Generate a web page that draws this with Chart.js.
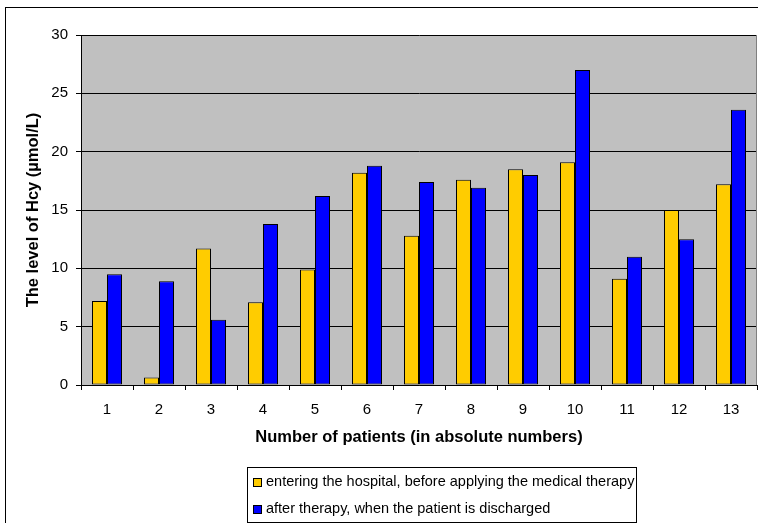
<!DOCTYPE html>
<html>
<head>
<meta charset="utf-8">
<title>Hcy level per patient</title>
<script src="https://cdn.jsdelivr.net/npm/chart.js@4.4.1/dist/chart.umd.min.js"></script>
<style>
  html, body { margin: 0; padding: 0; background: #fff; }
  #wrap { width: 758px; height: 523px; }
</style>
</head>
<body>
<div id="wrap"><canvas id="hcyChart" width="758" height="523"></canvas></div>
<script>
// patients on the x axis
const patients = ['1', '2', '3', '4', '5', '6', '7', '8', '9', '10', '11', '12', '13'];
// Hcy (µmol/L) on admission, before the therapy
const beforeTherapy = [7.2, 0.65, 11.7, 7.1, 9.9, 18.2, 12.8, 17.6, 18.5, 19.1, 9.1, 15.0, 17.2];
// Hcy (µmol/L) at discharge
const afterTherapy = [9.5, 8.9, 5.6, 13.8, 16.2, 18.8, 17.4, 16.9, 18.0, 27.0, 11.0, 12.5, 23.6];
const yTickValues = [0, 5, 10, 15, 20, 25, 30];
const seriesNames = [
    'entering the hospital, before applying the medical therapy',
    'after therapy, when the patient is discharged'
];

const FONT = '"Liberation Sans", Arial, sans-serif';

// grey plot background + outer frame of the whole figure
const chartFrame = {
    id: 'chartFrame',
    beforeDraw(chart) {
        const { ctx, chartArea: a } = chart;
        ctx.save();
        ctx.fillStyle = '#ffffff';
        ctx.fillRect(0, 0, chart.width, chart.height);
        ctx.fillStyle = '#c0c0c0';
        ctx.fillRect(a.left, a.top, a.right - a.left, a.bottom - a.top);
        ctx.strokeStyle = '#000';
        ctx.lineWidth = 1;
        ctx.strokeRect(5.5, 7.5, chart.width, chart.height);
        ctx.restore();
    },
    afterDraw(chart) {
        const { ctx, chartArea: a } = chart;
        ctx.save();
        ctx.strokeStyle = '#808080';
        ctx.lineWidth = 1;
        ctx.beginPath();
        ctx.moveTo(a.right - 0.5, a.top);
        ctx.lineTo(a.right - 0.5, a.bottom);
        ctx.stroke();
        ctx.restore();
    }
};

// boxed legend under the x axis title, one entry per row
const boxLegend = {
    id: 'boxLegend',
    afterDraw(chart) {
        const ctx = chart.ctx;
        ctx.save();
        ctx.strokeStyle = '#000';
        ctx.lineWidth = 1;
        ctx.strokeRect(247.5, 467.5, 389, 55);
        ctx.font = '14.5px ' + FONT;
        ctx.textBaseline = 'middle';
        ctx.textAlign = 'left';
        chart.data.datasets.forEach((ds, i) => {
            const y = 482 + i * 27;
            ctx.fillStyle = ds.backgroundColor;
            ctx.fillRect(253.5, y - 3.5, 8, 8);
            ctx.strokeRect(253.5, y - 3.5, 8, 8);
            ctx.fillStyle = '#000';
            ctx.fillText(ds.label, 266, y);
        });
        ctx.restore();
    }
};

const ctx = document.getElementById('hcyChart').getContext('2d');
new Chart(ctx, {
    type: 'bar',
    data: {
        labels: patients,
        datasets: [{
            label: seriesNames[0],
            data: beforeTherapy,
            backgroundColor: '#ffcc00',
            borderColor: '#000',
            borderWidth: 1,
            borderSkipped: false
        }, {
            label: seriesNames[1],
            data: afterTherapy,
            backgroundColor: '#0000ff',
            borderColor: '#000',
            borderWidth: 1,
            borderSkipped: false
        }]
    },
    options: {
        responsive: false,
        animation: false,
        devicePixelRatio: 1,
        categoryPercentage: 0.577,
        barPercentage: 1,
        layout: { padding: { top: 35, right: 1, left: 0, bottom: 0 } },
        scales: {
            x: {
                grid: {
                    offset: true,
                    drawOnChartArea: false,
                    color: '#000',
                    tickLength: 5
                },
                border: { color: '#000' },
                ticks: { color: '#000', font: { family: FONT, size: 15 }, padding: 11, maxRotation: 0 },
                title: {
                    display: true,
                    text: 'Number of patients (in absolute numbers)',
                    color: '#000',
                    font: { family: FONT, size: 16.5, weight: 'bold' },
                    padding: { top: 0, bottom: 76.1 }
                },
                afterFit: scale => { scale.height = 138; }
            },
            y: {
                min: 0,
                max: 30,
                afterBuildTicks: scale => {
                    scale.ticks = yTickValues.map(v => ({ value: v }));
                },
                grid: { color: '#000', tickLength: 5 },
                border: { color: '#000' },
                ticks: { color: '#000', font: { family: FONT, size: 15 }, padding: 8 },
                title: {
                    display: true,
                    text: 'The level of Hcy (µmol/L)',
                    color: '#000',
                    font: { family: FONT, size: 16.5, weight: 'bold' },
                    padding: { top: 23.1, bottom: 0 }
                },
                afterFit: scale => { scale.width = 81; }
            }
        },
        plugins: {
            legend: { display: false },
            tooltip: { enabled: false }
        }
    },
    plugins: [chartFrame, boxLegend]
});
</script>
</body>
</html>
